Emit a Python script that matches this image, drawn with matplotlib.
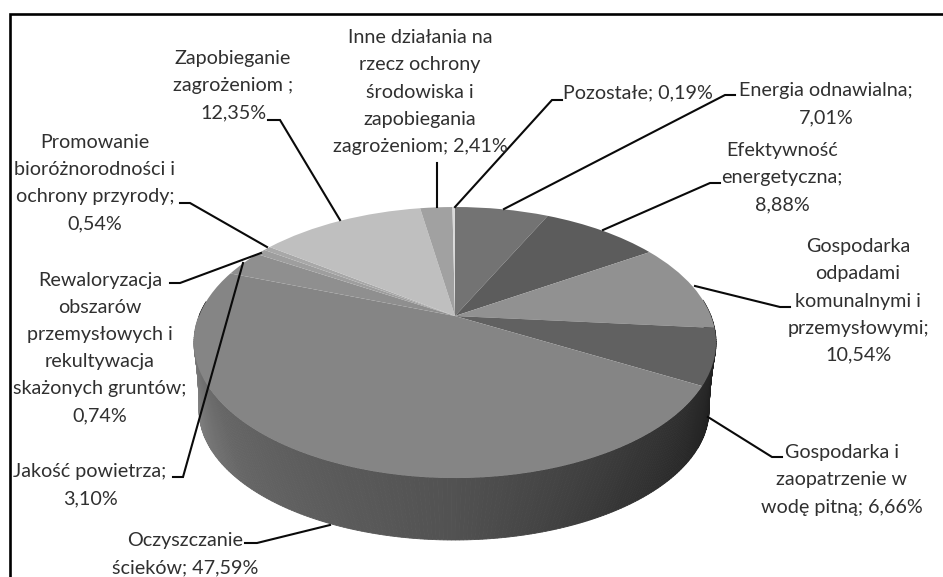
import numpy as np
import matplotlib
matplotlib.use("Agg")
import matplotlib.pyplot as plt
from matplotlib.transforms import Transform

labels = [
    "Energia odnawialna;\n7,01%",
    "Efektywność\nenergetyczna;\n8,88%",
    "Gospodarka\nodpadami\nkomunalnymi i\nprzemysłowymi;\n10,54%",
    "Gospodarka i\nzaopatrzenie w\nwodę pitną; 6,66%",
    "Oczyszczanie\nścieków; 47,59%",
    "Jakość powietrza;\n3,10%",
    "Rewaloryzacja\nobszarów\nprzemysłowych i\nrekultywacja\nskażonych gruntów;\n0,74%",
    "Promowanie\nbioróżnorodności i\nochrony przyrody;\n0,54%",
    "Zapobieganie\nzagrożeniom ;\n12,35%",
    "Inne działania na\nrzecz ochrony\nśrodowiska i\nzapobiegania\nzagrożeniom; 2,41%",
    "Pozostałe; 0,19%",
]
values = [7.01, 8.88, 10.54, 6.66, 47.59, 3.10, 0.74, 0.54, 12.35, 2.41, 0.19]
grays = [0.45, 0.36, 0.57, 0.38, 0.52, 0.56, 0.62, 0.66, 0.75, 0.63, 0.85]
label_xy = [(826, 104), (782, 178), (858, 301), (842, 480), (185, 554), (90, 485),
            (100, 348), (95, 183), (233, 86), (420, 92), (638, 93)]
leaders = [
    [(504, 209), (725, 95), (735, 95)],
    [(603, 230), (710, 183), (720, 183)],
    [(695, 286), (780, 307), (790, 307)],
    [(708, 417), (772, 457), (782, 457)],
    [(330, 525), (257, 543), (245, 543)],
    [(243, 263), (183, 477), (173, 477)],
    [(261, 253), (180, 283), (170, 283)],
    [(267, 247), (190, 203), (180, 203)],
    [(340, 220), (280, 120), (268, 120)],
    [(437, 207), (437, 163)],
    [(455, 207), (552, 100), (562, 100)],
]

C, A, B = 0.1956, 130.3, 256.0
PX, PY = 455.0, 316.0

class Persp(Transform):
    input_dims = output_dims = 2
    has_inverse = False
    def transform_non_affine(self, v):
        v = np.asarray(v, float)
        d = 1 + C * v[:, 1]
        return np.column_stack([PX + B * v[:, 0] / d, PY - A * v[:, 1] / d])

plt.rcParams['font.family'] = ['Lato', 'DejaVu Sans']
fig = plt.figure(figsize=(9.43, 5.77), dpi=100)
ax = fig.add_axes([0, 0, 1, 1])

colors = [str(g) for g in grays]
wedges, _ = ax.pie(values, startangle=90, counterclock=False, colors=colors)
ax.set_aspect('auto')
ax.set_xlim(0, 943)
ax.set_ylim(577, 0)
ax.axis('off')

persp = Persp()
for w in wedges:
    w.set_transform(persp + ax.transData)
    w.set_linewidth(0)
    w.set_zorder(5)

def top(t):
    return persp.transform_non_affine(np.column_stack([np.cos(t), np.sin(t)]))

def bottom(t):
    return np.column_stack([454 + 255 * np.cos(t), 410 - 130 * np.sin(t)])

def side_gray(deg):
    f = (deg + 180) / 180
    return float(np.interp(f, [0, 0.2, 0.5, 0.72, 0.82, 1.0],
                           [0.53, 0.40, 0.32, 0.21, 0.17, 0.12]))

for w in wedges:
    t1, t2 = np.radians(w.theta1), np.radians(w.theta2)
    ts = np.linspace(t1, t2, max(2, int((t2 - t1) / 0.015)))
    for a, b in zip(ts[:-1], ts[1:]):
        mid = (a + b) / 2
        m = (np.degrees(mid) + 180) % 360 - 180
        if np.sin(mid) < 0.12:
            seg = np.array([a, b])
            poly = np.vstack([top(seg), bottom(seg)[::-1]])
            ax.fill(poly[:, 0], poly[:, 1], color=str(side_gray(min(m, 0))),
                    lw=0.6, zorder=3)

for pts in leaders:
    p = np.array(pts)
    ax.plot(p[:, 0], p[:, 1], color='#0a0a0a', lw=1.5, zorder=7, solid_joinstyle='miter')

for s, (x, y) in zip(labels, label_xy):
    ax.text(x, y, s, ha='center', va='center', fontsize=14.2, color='#303030',
            linespacing=1.72, zorder=8)

ax.plot([10, 10, 943], [577, 14, 14], color='black', lw=1.9, zorder=9,
        solid_joinstyle='miter')

fig.savefig('out.png', dpi=100)
